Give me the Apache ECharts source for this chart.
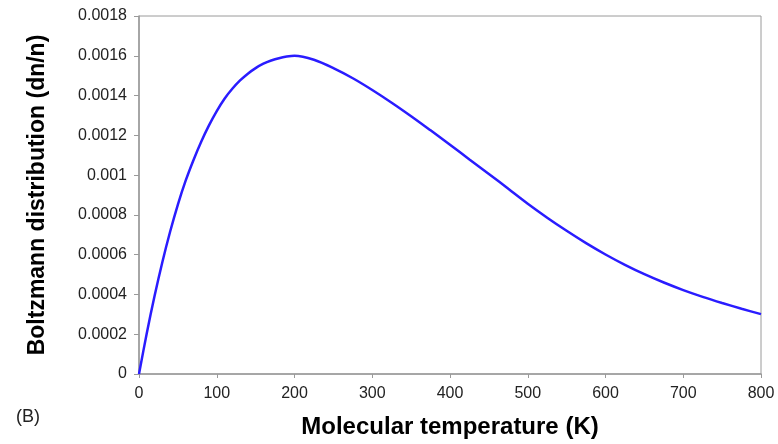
<!DOCTYPE html>
<html>
<head>
<meta charset="utf-8">
<script src="https://cdn.jsdelivr.net/npm/echarts@6/dist/echarts.min.js"></script>
<style>
  html, body { margin: 0; padding: 0; background: #fff; }
  #chart { width: 778px; height: 444px; }
</style>
</head>
<body>
<div id="chart"></div>
<script>
// Temperatures (K) and distribution values
const temps = [0, 10, 20, 30, 40, 50, 60, 70, 80, 90, 100, 110, 120, 130, 140, 150, 160, 170, 180, 190, 200,
  225, 250, 275, 300, 325, 350, 375, 400, 425, 450, 475, 500, 525, 550, 575, 600,
  625, 650, 675, 700, 725, 750, 775, 800];
const dist = [0, 0.000205, 0.000392, 0.000562, 0.000715, 0.000852, 0.000972, 0.001075, 0.001168, 0.00125,
  0.001322, 0.001384, 0.001434, 0.001476, 0.00151, 0.001538, 0.00156, 0.001576, 0.001588, 0.001596, 0.0016,
  0.00158, 0.001538, 0.001487, 0.001428, 0.001364, 0.001296, 0.001225, 0.001153, 0.001079, 0.001006,
  0.000931, 0.000856, 0.000786, 0.00072, 0.000658, 0.000601,
  0.000549, 0.000502, 0.00046, 0.000422, 0.000388, 0.000357, 0.000328, 0.000301];

const yTickLabels = ['0', '0.0002', '0.0004', '0.0006', '0.0008', '0.001', '0.0012', '0.0014', '0.0016', '0.0018'];

const chart = echarts.init(document.getElementById('chart'));

const gray = '#9a9a9a';
const font = 'Liberation Sans, Arial, sans-serif';

chart.setOption({
  animation: false,
  grid: { left: 139, right: 17, top: 16, bottom: 69, show: true, borderColor: gray, borderWidth: 1 },
  xAxis: {
    type: 'value', min: 0, max: 800, interval: 100,
    name: 'Molecular temperature (K)', nameLocation: 'middle', nameGap: 41,
    nameTextStyle: { fontSize: 24, fontWeight: 'bold', color: '#000', fontFamily: font },
    axisLine: { show: true, lineStyle: { color: gray, width: 1.5 } },
    axisTick: { show: true, length: 4, lineStyle: { color: gray } },
    axisLabel: { color: '#222', fontSize: 16, margin: 12, fontFamily: font },
    splitLine: { show: false }
  },
  yAxis: {
    type: 'value', min: 0, max: 0.0018, interval: 0.0002,
    name: 'Boltzmann distribution (dn/n)', nameLocation: 'middle', nameGap: 90,
    nameTextStyle: { fontSize: 23, fontWeight: 'bold', color: '#000', fontFamily: font },
    axisLine: { show: true, lineStyle: { color: gray, width: 1.5 } },
    axisTick: { show: true, length: 5, lineStyle: { color: gray } },
    axisLabel: {
      color: '#222', fontSize: 16, margin: 12, fontFamily: font,
      formatter: (v) => yTickLabels[Math.round(v / 0.0002)]
    },
    splitLine: { show: false }
  },
  graphic: [
    { type: 'text', left: 16, top: 408, style: { text: '(B)', fontSize: 18, fill: '#222', fontFamily: font } }
  ],
  series: [{
    type: 'line',
    data: temps.map((t, i) => [t, dist[i]]),
    smooth: 0.3,
    showSymbol: false,
    lineStyle: { color: '#2a1cff', width: 2.5 }
  }]
});
</script>
</body>
</html>
